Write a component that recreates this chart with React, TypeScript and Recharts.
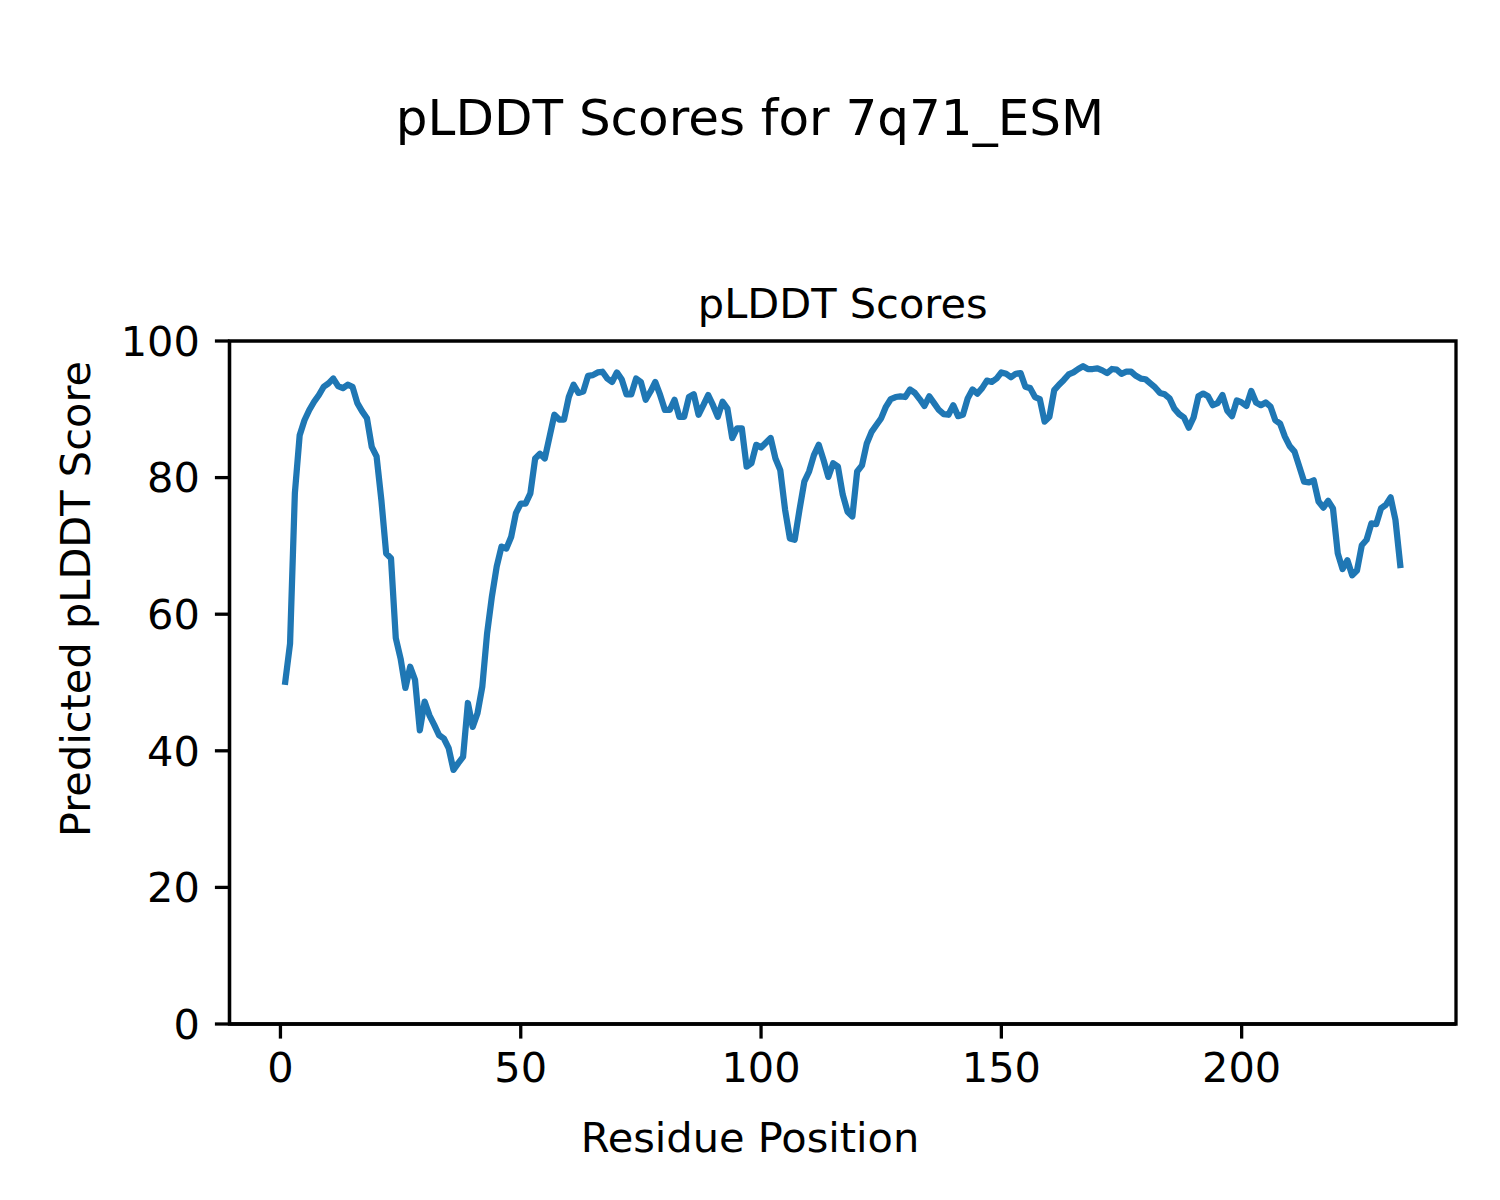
import React from 'react';
import { LineChart, Line, XAxis, YAxis, ReferenceArea } from 'recharts';

// Predicted pLDDT score per residue (residues 1..233)
const pLDDT: number[] = [
  50.1, 55.7, 77.7, 86.2, 88.4, 89.9, 91.1, 92.1, 93.3, 93.8,
  94.5, 93.4, 93.1, 93.6, 93.3, 90.9, 89.7, 88.7, 84.5, 83.1,
  76.7, 68.9, 68.2, 56.5, 53.5, 49.2, 52.3, 50.4, 43.0, 47.2,
  45.2, 43.8, 42.3, 41.8, 40.4, 37.2, 38.2, 39.1, 47.0, 43.5,
  45.5, 49.4, 57.2, 62.6, 67.0, 69.9, 69.6, 71.3, 74.8, 76.2,
  76.2, 77.7, 82.8, 83.5, 82.8, 86.0, 89.2, 88.5, 88.5, 91.8,
  93.6, 92.4, 92.6, 94.9, 95.0, 95.4, 95.5, 94.5, 94.0, 95.4,
  94.4, 92.2, 92.2, 94.5, 94.0, 91.4, 92.6, 94.0, 92.1, 89.9,
  89.9, 91.4, 88.9, 88.9, 91.8, 92.2, 89.2, 90.6, 92.1, 90.6,
  88.9, 91.1, 90.1, 85.8, 87.2, 87.2, 81.6, 82.1, 84.8, 84.4,
  85.1, 85.8, 82.8, 81.1, 75.3, 71.1, 70.9, 75.3, 79.4, 80.9,
  83.3, 84.8, 82.6, 80.1, 82.1, 81.6, 77.5, 75.0, 74.3, 80.9,
  81.8, 85.0, 86.7, 87.7, 88.7, 90.4, 91.5, 91.8, 91.9, 91.8,
  92.9, 92.4, 91.5, 90.5, 91.9, 90.9, 89.9, 89.3, 89.2, 90.6,
  89.0, 89.2, 91.6, 92.9, 92.3, 93.1, 94.2, 94.0, 94.5, 95.4,
  95.2, 94.7, 95.2, 95.3, 93.3, 93.1, 91.8, 91.5, 88.2, 88.9,
  92.8, 93.6, 94.3, 95.1, 95.4, 95.9, 96.3, 95.9, 95.9, 96.0,
  95.7, 95.3, 95.9, 95.8, 95.2, 95.5, 95.5, 94.9, 94.5, 94.4,
  93.8, 93.2, 92.4, 92.2, 91.6, 90.1, 89.3, 88.8, 87.3, 88.8,
  91.9, 92.3, 91.9, 90.6, 90.9, 92.1, 89.8, 89.0, 91.3, 91.0,
  90.5, 92.7, 91.0, 90.6, 91.0, 90.4, 88.4, 87.9, 86.0, 84.6,
  83.8, 81.6, 79.4, 79.3, 79.6, 76.5, 75.6, 76.6, 75.5, 68.9,
  66.6, 67.9, 65.7, 66.4, 70.1, 70.9, 73.3, 73.2, 75.5, 76.0,
  77.1, 73.8, 67.2,
];

const xTicks = [0, 50, 100, 150, 200];
const yTicks = [0, 20, 40, 60, 80, 100];
const xDomain: [number, number] = [-10.6, 244.6];
const yDomain: [number, number] = [0, 100];

const data = pLDDT.map((v, i) => ({ residue: i + 1, score: v }));

const FONT = '"DejaVu Sans", sans-serif';
const tickStyle = { fill: '#000', fontSize: 41.5, fontFamily: FONT };
const lineStyle = { stroke: '#000', strokeWidth: 3.3 };

export default function App() {
  return (
    <div style={{ position: 'absolute', left: 0, top: 0, width: 1500, height: 1200, background: '#fff' }}>
      <LineChart
        width={1500}
        height={1200}
        data={data}
        margin={{ top: 341, right: 44, bottom: 116, left: 129.5 }}
      >
        <XAxis
          dataKey="residue"
          type="number"
          domain={xDomain}
          allowDataOverflow
          ticks={xTicks}
          height={60}
          tickSize={14.6}
          tickMargin={14}
          tick={tickStyle}
          axisLine={lineStyle}
          tickLine={lineStyle}
        />
        <YAxis
          type="number"
          domain={yDomain}
          allowDataOverflow
          ticks={yTicks}
          width={100}
          tickSize={14.6}
          tickMargin={15}
          tick={tickStyle}
          axisLine={lineStyle}
          tickLine={lineStyle}
        />
        <ReferenceArea
          x1={xDomain[0]}
          x2={xDomain[1]}
          y1={yDomain[0]}
          y2={yDomain[1]}
          fill="none"
          fillOpacity={0}
          stroke="#000"
          strokeWidth={3.3}
          ifOverflow="visible"
        />
        <Line
          dataKey="score"
          type="linear"
          stroke="#1f77b4"
          strokeWidth={6.25}
          strokeLinejoin="round"
          strokeLinecap="square"
          dot={false}
          activeDot={false}
          isAnimationActive={false}
        />
      </LineChart>
      <svg
        style={{ position: 'absolute', left: 0, top: 0, pointerEvents: 'none' }}
        width={1500}
        height={1200}
      >
        <text x={750} y={134.5} textAnchor="middle" fontSize={50} fontFamily={FONT} fill="#000">
          pLDDT Scores for 7q71_ESM
        </text>
        <text x={842.75} y={318} textAnchor="middle" fontSize={41.5} fontFamily={FONT} fill="#000">
          pLDDT Scores
        </text>
        <text x={750} y={1152.3} textAnchor="middle" fontSize={41.5} fontFamily={FONT} fill="#000">
          Residue Position
        </text>
        <text
          transform="translate(90,599) rotate(-90)"
          textAnchor="middle"
          fontSize={41.5}
          fontFamily={FONT}
          fill="#000"
        >
          Predicted pLDDT Score
        </text>
      </svg>
    </div>
  );
}
